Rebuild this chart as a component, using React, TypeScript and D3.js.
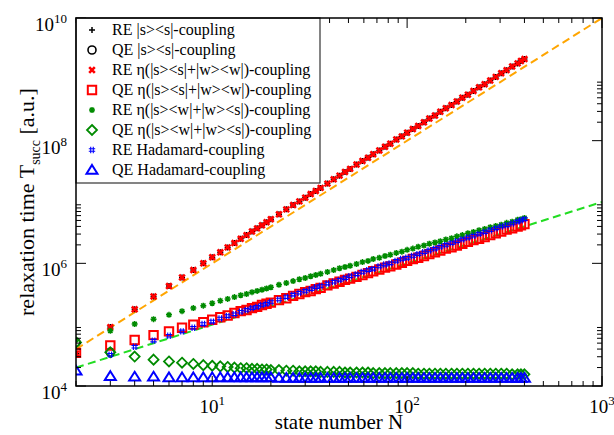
import React, { useEffect, useRef } from "react";
import * as d3 from "d3";

// state numbers N where points are drawn (sampled, dense enough to form the bands)
const nValues = [2, 3, 4, 5, 6, 7, 8, 9, 10, 11, 12, 13, 14, 15, 16, 17, 18, 19, 20,
  22, 24, 26, 28, 30, 32, 34, 36,
  39, 42, 45, 48, 51, 55, 59, 63, 67, 72, 77, 82, 88, 94, 100,
  107, 114, 122, 130, 139, 148, 158, 169, 180, 192, 205, 219, 234, 250, 267, 285, 304, 324, 346, 369, 384, 400];

// log10 of T_succ
const reSSLog = [4.53, 4.96, 5.25, 5.46, 5.63, 5.77, 5.89, 6.00, 6.10, 6.18, 6.26, 6.33, 6.40, 6.46, 6.52, 6.57, 6.62, 6.67, 6.72,
  6.80, 6.88, 6.95, 7.01, 7.07, 7.13, 7.18, 7.23,
  7.30, 7.37, 7.43, 7.49, 7.54, 7.61, 7.67, 7.72, 7.78, 7.84, 7.90, 7.95, 8.02, 8.07, 8.13,
  8.19, 8.24, 8.30, 8.36, 8.41, 8.47, 8.53, 8.58, 8.64, 8.70, 8.75, 8.81, 8.87, 8.92, 8.98, 9.04, 9.10, 9.15, 9.21, 9.26, 9.30, 9.33];

const qeSSLog = [4.71, 4.55];

const reEtaSSWWLog = [4.53, 4.96, 5.25, 5.46, 5.63, 5.77, 5.89, 6.00, 6.10, 6.18, 6.26, 6.33, 6.40, 6.46, 6.52, 6.57, 6.62, 6.67, 6.72,
  6.80, 6.88, 6.95, 7.01, 7.07, 7.13, 7.18, 7.23,
  7.30, 7.37, 7.43, 7.49, 7.54, 7.61, 7.67, 7.72, 7.78, 7.84, 7.90, 7.95, 8.02, 8.07, 8.13,
  8.19, 8.24, 8.30, 8.36, 8.41, 8.47, 8.53, 8.58, 8.64, 8.70, 8.75, 8.81, 8.87, 8.92, 8.98, 9.04, 9.10, 9.15, 9.21, 9.26, 9.30, 9.33];

const qeEtaSSWWLog = [4.54, 4.66, 4.75, 4.83, 4.89, 4.95, 5.00, 5.04, 5.08, 5.12, 5.15, 5.19, 5.22, 5.24, 5.27, 5.29, 5.32, 5.34, 5.36,
  5.40, 5.43, 5.47, 5.50, 5.53, 5.55, 5.58, 5.60,
  5.64, 5.67, 5.70, 5.73, 5.75, 5.78, 5.81, 5.84, 5.87, 5.90, 5.93, 5.95, 5.98, 6.01, 6.04,
  6.07, 6.09, 6.12, 6.15, 6.18, 6.21, 6.24, 6.26, 6.29, 6.32, 6.35, 6.38, 6.40, 6.43, 6.46, 6.49, 6.52, 6.55, 6.57, 6.60, 6.62, 6.64];

const reEtaSWWSLog = [4.75, 4.90, 5.01, 5.09, 5.16, 5.22, 5.27, 5.31, 5.35, 5.39, 5.42, 5.45, 5.48, 5.50, 5.53, 5.55, 5.57, 5.59, 5.61,
  5.65, 5.68, 5.71, 5.74, 5.76, 5.79, 5.81, 5.83,
  5.86, 5.89, 5.92, 5.94, 5.96, 5.99, 6.02, 6.04, 6.07, 6.09, 6.12, 6.14, 6.17, 6.19, 6.22,
  6.24, 6.27, 6.29, 6.32, 6.34, 6.36, 6.39, 6.41, 6.44, 6.46, 6.49, 6.51, 6.54, 6.56, 6.59, 6.61, 6.63, 6.66, 6.68, 6.71, 6.72, 6.74];

const qeEtaSWWSLog = [4.71, 4.55, 4.48, 4.43, 4.40, 4.38, 4.36, 4.34, 4.33, 4.32, 4.31, 4.30, 4.29, 4.29, 4.28, 4.28, 4.27, 4.27, 4.26,
  4.26, 4.25, 4.25, 4.24, 4.24, 4.24, 4.24, 4.23,
  4.23, 4.23, 4.23, 4.22, 4.22, 4.22, 4.22, 4.22, 4.21, 4.21, 4.21, 4.21, 4.21, 4.21, 4.21,
  4.21, 4.20, 4.20, 4.20, 4.20, 4.20, 4.20, 4.20, 4.20, 4.20, 4.20, 4.20, 4.20, 4.20, 4.20, 4.20, 4.20, 4.20, 4.19, 4.19, 4.19, 4.19];

const reHadamardLog = [null, 4.51, 4.64, 4.74, 4.82, 4.89, 4.95, 5.01, 5.05, 5.10, 5.14, 5.17, 5.21, 5.24, 5.27, 5.29, 5.32, 5.34, 5.37,
  5.41, 5.45, 5.49, 5.52, 5.55, 5.58, 5.61, 5.63,
  5.67, 5.70, 5.73, 5.76, 5.79, 5.82, 5.86, 5.89, 5.91, 5.95, 5.98, 6.00, 6.04, 6.07, 6.09,
  6.12, 6.15, 6.18, 6.21, 6.24, 6.27, 6.30, 6.33, 6.36, 6.39, 6.42, 6.45, 6.48, 6.51, 6.54, 6.57, 6.60, 6.62, 6.65, 6.68, 6.70, 6.72];

const qeHadamardLog = [4.25, 4.16, 4.15, 4.15, 4.14, 4.14, 4.14, 4.14, 4.14, 4.14, 4.14, 4.14, 4.14, 4.14, 4.14, 4.14, 4.14, 4.14, 4.14,
  4.13, 4.13, 4.13, 4.13, 4.13, 4.13, 4.13, 4.13,
  4.13, 4.13, 4.13, 4.13, 4.13, 4.13, 4.13, 4.13, 4.13, 4.13, 4.13, 4.13, 4.13, 4.13, 4.13,
  4.13, 4.13, 4.13, 4.13, 4.13, 4.13, 4.13, 4.13, 4.13, 4.13, 4.13, 4.13, 4.13, 4.13, 4.13, 4.13, 4.13, 4.13, 4.13, 4.13, 4.13, 4.13];

// dashed guide lines (N^2 and N scaling)
const fitN = [2, 1000];
const orangeFitLog = [4.60, 10.0];
const greenFitLog = [4.30, 7.0];

const legendLabels = [
  "RE |s><s|-coupling",
  "QE |s><s|-coupling",
  "RE \u03b7(|s><s|+|w><w|)-coupling",
  "QE \u03b7(|s><s|+|w><w|)-coupling",
  "RE \u03b7(|s><w|+|w><s|)-coupling",
  "QE \u03b7(|s><w|+|w><s|)-coupling",
  "RE Hadamard-coupling",
  "QE Hadamard-coupling",
];

const xMajor = [10, 100, 1000];
const yMajor = [1e4, 1e6, 1e8, 1e10];

function markPath(kind: string, r: number) {
  const d = r * 0.72;
  const a = r * 0.4;
  switch (kind) {
    case "plus": return `M${-r},0H${r}M0,${-r}V${r}`;
    case "x": return `M${-r},${-r}L${r},${r}M${-r},${r}L${r},${-r}`;
    case "star": return `M${-r},0H${r}M0,${-r}V${r}M${-d},${-d}L${d},${d}M${-d},${d}L${d},${-d}`;
    case "square": return `M${-r},${-r}H${r}V${r}H${-r}Z`;
    case "diamond": return `M0,${-r}L${r},0L0,${r}L${-r},0Z`;
    case "triangle": return `M0,${-r}L${r * 1.1},${r * 0.75}L${-r * 1.1},${r * 0.75}Z`;
    case "hash": return `M${-a},${-r}V${r}M${a},${-r}V${r}M${-r},${-a}H${r}M${-r},${a}H${r}`;
    default: return `M${r},0A${r},${r} 0 1,1 ${-r},0A${r},${r} 0 1,1 ${r},0`;
  }
}

export default function App() {
  const ref = useRef<SVGSVGElement>(null);

  useEffect(() => {
    const width = 614, height = 435;
    const margin = { top: 18, right: 12, bottom: 49, left: 76 };
    const font = "'Liberation Serif', 'Times New Roman', serif";

    const svg = d3.select(ref.current);
    svg.selectAll("*").remove();

    const x = d3.scaleLog().domain([2, 1000]).range([margin.left, width - margin.right]);
    const y = d3.scaleLog().domain([1e4, 1e10]).range([height - margin.bottom, margin.top]);
    const [x0, x1] = x.range();
    const [y0, y1] = y.range();

    svg.append("rect").attr("width", width).attr("height", height).attr("fill", "white");

    svg.append("clipPath").attr("id", "plotclip")
      .append("rect").attr("x", x0).attr("y", y1).attr("width", x1 - x0).attr("height", y0 - y1);

    const plot = svg.append("g").attr("clip-path", "url(#plotclip)");

    // dashed fits
    const fitLine = (vals: number[], color: string) => {
      plot.append("path")
        .datum(fitN.map((n, i) => [n, Math.pow(10, vals[i])]))
        .attr("fill", "none")
        .attr("stroke", color)
        .attr("stroke-width", 2)
        .attr("stroke-dasharray", "8,4.5")
        .attr("d", d3.line<number[]>().x(d => x(d[0])).y(d => y(d[1])));
    };
    fitLine(orangeFitLog, "#ffa500");
    fitLine(greenFitLog, "#22dd22");

    const series = [
      { vals: reSSLog, kind: "plus", color: "black", r: 3, sw: 1.5 },
      { vals: qeSSLog, kind: "circle", color: "black", r: 4, sw: 1.6 },
      { vals: reEtaSSWWLog, kind: "x", color: "#ff0000", r: 2.8, sw: 2.6 },
      { vals: qeEtaSSWWLog, kind: "square", color: "#ff0000", r: 4.2, sw: 2 },
      { vals: reEtaSWWSLog, kind: "star", color: "#008b00", r: 3, sw: 1.5 },
      { vals: qeEtaSWWSLog, kind: "diamond", color: "#008b00", r: 5, sw: 1.8 },
      { vals: reHadamardLog, kind: "hash", color: "#0000ff", r: 3.2, sw: 1.1 },
      { vals: qeHadamardLog, kind: "triangle", color: "#0000ff", r: 5, sw: 2 },
    ];

    series.forEach(s => {
      const pts = s.vals
        .map((v, i) => ({ n: nValues[i], v }))
        .filter(p => p.v !== null && p.v !== undefined);
      plot.append("g").selectAll("path").data(pts).join("path")
        .attr("transform", p => `translate(${x(p.n)},${y(Math.pow(10, p.v as number))})`)
        .attr("d", markPath(s.kind, s.r))
        .attr("fill", "none")
        .attr("stroke", s.color)
        .attr("stroke-width", s.sw);
    });

    // ticks on all four sides, pointing inward
    const xMinor: number[] = [];
    [1, 10, 100].forEach(b => d3.range(2, 10).forEach(k => { if (k * b >= 2 && k * b < 1000) xMinor.push(k * b); }));
    const yMinor: number[] = [];
    [1e4, 1e6, 1e8].forEach(b => d3.range(2, 10).forEach(k => yMinor.push(k * b)));

    const ticks = svg.append("g").attr("stroke", "black").attr("stroke-width", 1);
    const xt = (vals: number[], len: number) => vals.forEach(v => {
      ticks.append("line").attr("x1", x(v)).attr("x2", x(v)).attr("y1", y0).attr("y2", y0 - len);
      ticks.append("line").attr("x1", x(v)).attr("x2", x(v)).attr("y1", y1).attr("y2", y1 + len);
    });
    const yt = (vals: number[], len: number) => vals.forEach(v => {
      ticks.append("line").attr("y1", y(v)).attr("y2", y(v)).attr("x1", x0).attr("x2", x0 + len);
      ticks.append("line").attr("y1", y(v)).attr("y2", y(v)).attr("x1", x1).attr("x2", x1 - len);
    });
    xt(xMajor, 10); xt(xMinor, 5);
    yt(yMajor, 10); yt(yMinor, 5);

    // legend box
    const lg = svg.append("g");
    lg.append("rect").attr("x", x0).attr("y", y1).attr("width", 244).attr("height", 165)
      .attr("fill", "white").attr("stroke", "#333").attr("stroke-width", 1.2);
    legendLabels.forEach((label, i) => {
      const s = series[i];
      const ly = y1 + 12 + i * 20;
      lg.append("path").attr("transform", `translate(92,${ly})`)
        .attr("d", markPath(s.kind, s.r)).attr("fill", "none")
        .attr("stroke", s.color).attr("stroke-width", s.sw);
      lg.append("text").attr("x", 112).attr("y", ly + 5)
        .attr("font-family", font).attr("font-size", 16).attr("fill", "black")
        .text(label);
    });

    // frame
    svg.append("rect").attr("x", x0).attr("y", y1).attr("width", x1 - x0).attr("height", y0 - y1)
      .attr("fill", "none").attr("stroke", "black").attr("stroke-width", 1.5);

    // tick labels
    xMajor.forEach(v => {
      const t = svg.append("text").attr("x", x(v)).attr("y", y0 + 27)
        .attr("text-anchor", "middle").attr("font-family", font).attr("font-size", 19);
      t.append("tspan").text("10");
      t.append("tspan").attr("dy", -8).attr("font-size", 13).text(String(Math.round(Math.log10(v))));
    });
    yMajor.forEach(v => {
      const t = svg.append("text").attr("x", 67).attr("y", y(v) + 13)
        .attr("text-anchor", "end").attr("font-family", font).attr("font-size", 19);
      t.append("tspan").text("10");
      t.append("tspan").attr("dy", -8).attr("font-size", 13).text(String(Math.round(Math.log10(v))));
    });

    // axis titles
    svg.append("text").attr("x", (x0 + x1) / 2).attr("y", 429)
      .attr("text-anchor", "middle").attr("font-family", font).attr("font-size", 21)
      .text("state number N");
    const yt2 = svg.append("text")
      .attr("transform", `translate(34,${(y0 + y1) / 2}) rotate(-90)`)
      .attr("text-anchor", "middle").attr("font-family", font).attr("font-size", 22);
    yt2.append("tspan").text("relaxation time T");
    yt2.append("tspan").attr("dy", 6).attr("font-size", 14).text("succ");
    yt2.append("tspan").attr("dy", -6).text(" [a.u.]");
  }, []);

  return (
    <div style={{ position: "absolute", left: 0, top: 0 }}>
      <svg ref={ref} width={614} height={435} />
    </div>
  );
}
